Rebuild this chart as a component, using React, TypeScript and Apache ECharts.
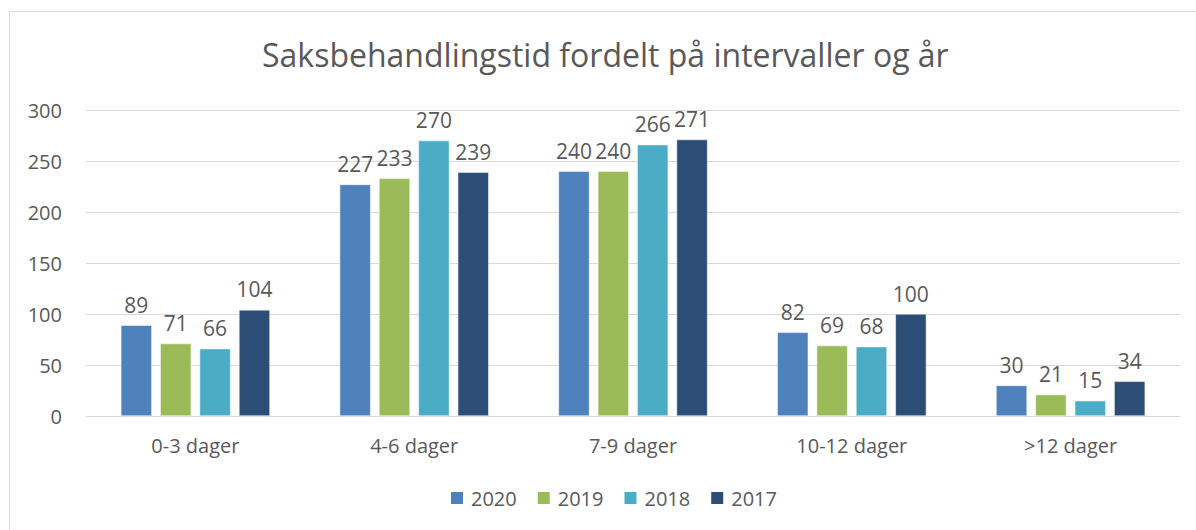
import React, { useEffect, useRef } from "react";
import * as echarts from "echarts";

const categories = ["0-3 dager", "4-6 dager", "7-9 dager", "10-12 dager", ">12 dager"];
const seriesNames = ["2020", "2019", "2018", "2017"];
const values2020 = [89, 227, 240, 82, 30];
const values2019 = [71, 233, 240, 69, 21];
const values2018 = [66, 270, 266, 68, 15];
const values2017 = [104, 239, 271, 100, 34];
const colors = ["#4F81BD", "#9BBB59", "#4BACC6", "#2C4D75"];
const yTicks = { min: 0, max: 300, interval: 50 };
const titleText = "Saksbehandlingstid fordelt på intervaller og år";

const FONT = "'Open Sans', sans-serif";
const TEXT = "#595959";

export default function App() {
  const ref = useRef<HTMLDivElement>(null);
  useEffect(() => {
    if (!ref.current) return;
    const chart = echarts.init(ref.current, null, { renderer: "svg" });
    const data = [values2020, values2019, values2018, values2017];
    chart.setOption({
      animation: false,
      backgroundColor: "#ffffff",
      title: {
        text: titleText,
        left: 257,
        top: 33,
        textStyle: { fontFamily: FONT, fontSize: 32, fontWeight: "normal", color: TEXT },
      },
      legend: {
        bottom: 17,
        left: 444,
        itemWidth: 14,
        itemHeight: 14,
        itemGap: 19,
        icon: "rect",
        textStyle: { fontFamily: FONT, fontSize: 20, color: TEXT, padding: [0, 0, 0, 2] },
        data: seriesNames,
      },
      graphic: [
        {
          type: "rect",
          shape: { x: 9.5, y: 11.5, width: 1300, height: 700 },
          style: { fill: "none", stroke: "#D9D9D9", lineWidth: 1 },
          silent: true,
        },
      ],
      grid: { left: 86, right: 16, top: 110, bottom: 114, containLabel: false },
      xAxis: {
        type: "category",
        data: categories,
        axisLine: { lineStyle: { color: "#D9D9D9", width: 1 } },
        axisTick: { show: false },
        axisLabel: { fontFamily: FONT, fontSize: 20, color: TEXT, margin: 19 },
      },
      yAxis: {
        type: "value",
        min: yTicks.min,
        max: yTicks.max,
        interval: yTicks.interval,
        axisLine: { show: false },
        axisTick: { show: false },
        splitLine: { lineStyle: { color: "#D9D9D9", width: 1 } },
        axisLabel: { fontFamily: FONT, fontSize: 20, color: TEXT, margin: 24 },
      },
      series: seriesNames.map((name, i) => ({
        name,
        type: "bar",
        data: data[i],
        barWidth: 31,
        barGap: "27%",
        itemStyle: { color: colors[i], borderColor: "#ffffff", borderWidth: 0.5 },
        label: {
          show: true,
          position: "top",
          distance: 10,
          fontFamily: FONT,
          fontSize: 21,
          color: TEXT,
        },
      })),
    });
    return () => chart.dispose();
  }, []);
  return (
    <div
      ref={ref}
      style={{ position: "absolute", left: 0, top: 0, width: 1196, height: 530 }}
    />
  );
}
